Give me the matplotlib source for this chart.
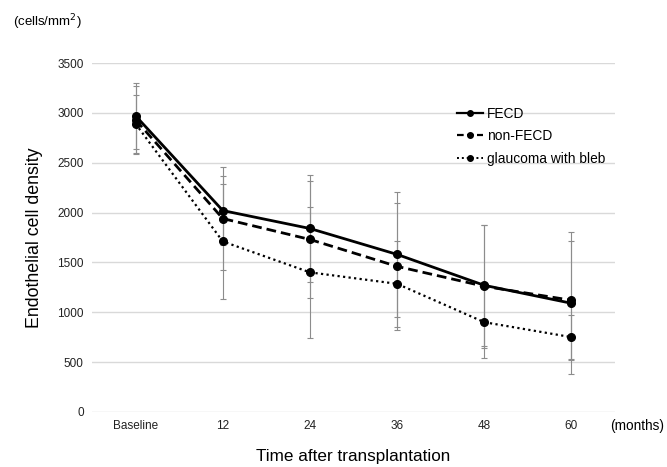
import matplotlib.pyplot as plt
import numpy as np

plt.rcParams['font.family'] = ['Liberation Sans', 'DejaVu Sans']

# Data
labels = ['Baseline', '12', '24', '36', '48', '60']

fecd = [2970, 2020, 1840, 1580, 1270, 1090]
fecd_sd = [330, 350, 540, 630, 610, 710]

non_fecd = [2930, 1940, 1730, 1460, 1260, 1120]
non_fecd_sd = [340, 515, 590, 640, 620, 590]

glaucoma = [2890, 1710, 1400, 1285, 900, 750]
glaucoma_sd = [290, 580, 660, 430, 360, 225]

x = np.arange(len(labels))

fig = plt.figure(figsize=(6.67, 4.67), dpi=100)
ax = fig.add_axes([0.138, 0.118, 0.784, 0.747])

err_kw = dict(ecolor='#8c8c8c', elinewidth=0.8, capsize=2.5, capthick=0.8, zorder=2)
ax.errorbar(x, fecd, yerr=fecd_sd, fmt='none', **err_kw)
ax.errorbar(x, non_fecd, yerr=non_fecd_sd, fmt='none', **err_kw)
ax.errorbar(x, glaucoma, yerr=glaucoma_sd, fmt='none', **err_kw)

l1, = ax.plot(x, fecd, color='black', lw=2, ls='-', marker='o', ms=5.5, zorder=4)
l2, = ax.plot(x, non_fecd, color='black', lw=2, ls=(0, (3.5, 1.8)), marker='o', ms=5.5,
              zorder=4)
l3, = ax.plot(x, glaucoma, color='black', lw=1.6, ls=(0, (1, 1.5)), marker='o', ms=5.5,
              zorder=4)

ax.set_xlim(-0.5, len(labels) - 0.5)
ax.set_ylim(0, 3500)
ax.set_yticks(np.arange(0, 3501, 500))
ax.set_xticks(x)
ax.set_xticklabels(labels)
ax.tick_params(axis='both', length=0, labelsize=8.5, colors='#222222', pad=6)
ax.grid(axis='y', color='#d9d9d9', lw=1)
ax.set_axisbelow(True)
for s in ax.spines.values():
    s.set_visible(False)

ax.set_ylabel('Endothelial cell density', fontsize=12.8, labelpad=10)
ax.set_xlabel('Time after transplantation', fontsize=12.3, labelpad=12)

fig.text(0.02, 0.953, '(cells/mm$^2$)', fontsize=9.5, va='center', ha='left')
fig.text(0.914, 0.087, '(months)', fontsize=9.8, va='center', ha='left')

# legend with thinner handles, like the original
from matplotlib.lines import Line2D
handles = [
    Line2D([], [], color='black', lw=1.6, ls='-', marker='o', ms=4),
    Line2D([], [], color='black', lw=1.6, ls=(0, (3, 1.5)), marker='o', ms=4),
    Line2D([], [], color='black', lw=1.4, ls=(0, (1, 1.5)), marker='o', ms=4),
]
ax.legend(handles, ['FECD', 'non-FECD', 'glaucoma with bleb'],
          loc='upper left', bbox_to_anchor=(0.698, 0.875), frameon=False, fontsize=9.9,
          handlelength=1.9, handletextpad=0.3, labelspacing=0.62, borderaxespad=0,
          borderpad=0)

plt.savefig('out.png', dpi=100)
